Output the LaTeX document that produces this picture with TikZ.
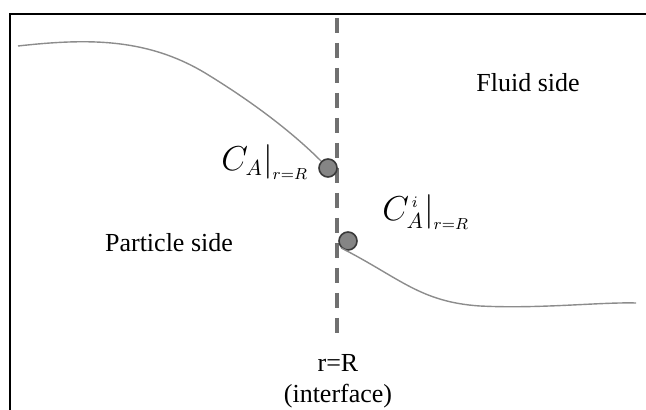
\documentclass[tikz,border=0pt]{standalone}
\usepackage{fontspec}
\setmainfont{Liberation Serif}
\usepackage{tikz}
\usetikzlibrary{positioning, calc}
\definecolor{dashgray}{HTML}{707070}
\definecolor{curvegray}{HTML}{8C8C8C}
\definecolor{dotfill}{HTML}{858585}
\definecolor{dotline}{HTML}{3A3A3A}

\begin{document}
\begin{tikzpicture}[
  x=0.5pt, y=-0.5pt,
  dot/.style={circle, draw=dotline, fill=dotfill, line width=0.8pt, minimum size=9pt, inner sep=0pt},
  lbl/.style={font=\fontsize{13}{15}\selectfont, inner sep=1pt},
  mlbl/.style={font=\fontsize{16}{18}\selectfont, inner sep=1pt},
  prof/.style={curvegray, line width=0.7pt},
  iface/.style={dashgray, line width=2pt, dash pattern=on 7.5pt off 5pt}
]
\useasboundingbox (0,0) rectangle (646,410);
% frame
\draw[line width=1pt] (10,410) -- (10,14) -- (646,14);

% interface line
\coordinate (itop) at (337,18);
\coordinate (ibot) at (337,337);
\draw[iface] (itop) -- (ibot);

% concentration points
\node[dot] (pt1) at (328,168) {};
\node[dot] (pt2) at (348,241) {};

% profiles
\coordinate (pstart) at (18,46);
\coordinate (fend) at (636,303);
\draw[prof] (pstart) .. controls (90,38) and (150,38) .. (210,76)
  .. controls (265,110) and (300,140) .. (pt1.north west);
\draw[prof] (pt2.south west) .. controls (400,278) and (420,302) .. (480,306)
  .. controls (540,309) and (600,302) .. (fend);

% labels
\node[mlbl, anchor=west] (c1) at (219,162) {$C_A\Big|_{\scriptscriptstyle r=R}$};
\node[mlbl, anchor=west] (c2) at (380,212) {$C_{A}^{\scriptscriptstyle\,i}\Big|_{\scriptscriptstyle r=R}$};
\node[lbl] (fluid) at (528,83) {Fluid side};
\node[lbl] (part) at (169,243) {Particle side};
\node[lbl] (rr) at (338,363) {r=R};
\node[lbl, below=4pt of rr] (ifc) {(interface)};
\end{tikzpicture}
\end{document}
